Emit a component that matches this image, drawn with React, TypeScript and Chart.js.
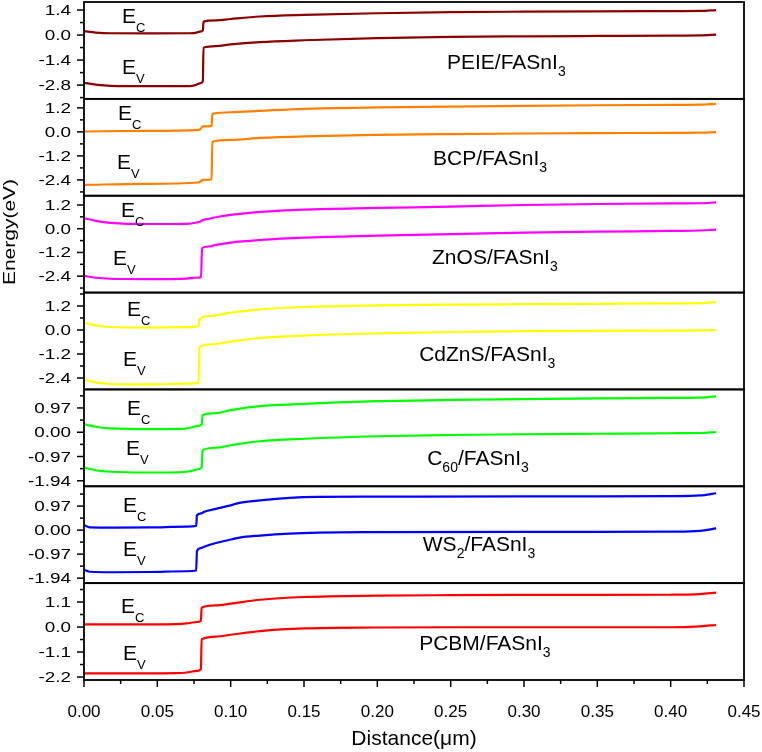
import React, { useEffect, useRef } from 'react';
import { Chart, registerables } from 'chart.js';

Chart.register(...registerables);

const FONT = "'Liberation Sans', Arial, sans-serif";

// distance (um), conduction band Ec and valence band Ev (eV) for each ETL/FASnI3 device
const PEIE_X = [0, 0.008, 0.018, 0.045, 0.072, 0.076, 0.079, 0.081, 0.0815, 0.09, 0.1, 0.12, 0.15, 0.2, 0.25, 0.3, 0.35, 0.4, 0.42, 0.431];
const PEIE_EC = [0.22, 0.14, 0.1, 0.09, 0.1, 0.12, 0.19, 0.25, 0.75, 0.82, 0.9, 1.04, 1.13, 1.22, 1.28, 1.31, 1.33, 1.34, 1.35, 1.4];
const PEIE_EV = [-2.67, -2.77, -2.84, -2.86, -2.86, -2.8, -2.7, -2.6, -0.71, -0.62, -0.52, -0.39, -0.29, -0.17, -0.1, -0.07, -0.05, -0.03, -0.02, 0.02];

const BCP_X = [0, 0.04, 0.078, 0.0795, 0.081, 0.087, 0.0875, 0.1, 0.12, 0.15, 0.2, 0.25, 0.3, 0.35, 0.4, 0.42, 0.431];
const BCP_EC = [0.02, 0.05, 0.1, 0.15, 0.27, 0.3, 0.9, 0.98, 1.05, 1.15, 1.22, 1.26, 1.3, 1.33, 1.35, 1.36, 1.4];
const BCP_EV = [-2.65, -2.6, -2.53, -2.47, -2.4, -2.38, -0.5, -0.4, -0.3, -0.22, -0.15, -0.11, -0.08, -0.06, -0.05, -0.04, -0.01];

const ZNOS_X = [0, 0.008, 0.018, 0.045, 0.07, 0.076, 0.0798, 0.0805, 0.085, 0.09, 0.1, 0.12, 0.15, 0.2, 0.25, 0.3, 0.35, 0.4, 0.42, 0.431];
const ZNOS_EC = [0.54, 0.4, 0.3, 0.24, 0.25, 0.3, 0.38, 0.42, 0.5, 0.58, 0.7, 0.85, 0.97, 1.05, 1.12, 1.2, 1.25, 1.28, 1.29, 1.33];
const ZNOS_EV = [-2.38, -2.48, -2.53, -2.55, -2.52, -2.48, -2.45, -0.98, -0.9, -0.82, -0.7, -0.57, -0.45, -0.35, -0.27, -0.2, -0.15, -0.11, -0.09, -0.05];

const CDZNS_X = [0, 0.008, 0.018, 0.045, 0.07, 0.0782, 0.0786, 0.086, 0.1, 0.12, 0.15, 0.2, 0.25, 0.3, 0.35, 0.4, 0.42, 0.431];
const CDZNS_EC = [0.37, 0.22, 0.15, 0.12, 0.14, 0.2, 0.53, 0.7, 0.87, 1.03, 1.15, 1.23, 1.27, 1.29, 1.31, 1.33, 1.34, 1.4];
const CDZNS_EV = [-2.47, -2.62, -2.7, -2.72, -2.68, -2.63, -0.88, -0.72, -0.58, -0.4, -0.28, -0.17, -0.1, -0.06, -0.04, -0.03, -0.02, 0];

const C60_X = [0, 0.008, 0.018, 0.045, 0.065, 0.072, 0.078, 0.0803, 0.0808, 0.09, 0.1, 0.12, 0.15, 0.2, 0.25, 0.3, 0.35, 0.4, 0.42, 0.431];
const C60_EC = [0.32, 0.22, 0.15, 0.12, 0.13, 0.17, 0.25, 0.32, 0.68, 0.76, 0.88, 1.04, 1.13, 1.24, 1.29, 1.32, 1.35, 1.37, 1.38, 1.43];
const C60_EV = [-1.41, -1.52, -1.58, -1.61, -1.6, -1.56, -1.48, -1.4, -0.72, -0.62, -0.52, -0.36, -0.26, -0.16, -0.11, -0.08, -0.06, -0.04, -0.03, 0.01];

const WS2_X = [0, 0.004, 0.02, 0.045, 0.07, 0.0765, 0.077, 0.08, 0.082, 0.09, 0.1, 0.106, 0.12, 0.14, 0.16, 0.2, 0.3, 0.35, 0.4, 0.42, 0.431];
const WS2_EC = [0.2, 0.11, 0.1, 0.11, 0.14, 0.17, 0.6, 0.68, 0.74, 0.86, 1.0, 1.1, 1.2, 1.3, 1.34, 1.35, 1.36, 1.36, 1.37, 1.4, 1.49];
const WS2_EV = [-1.6, -1.68, -1.7, -1.69, -1.66, -1.63, -0.84, -0.72, -0.67, -0.52, -0.38, -0.3, -0.22, -0.14, -0.1, -0.08, -0.07, -0.07, -0.06, -0.03, 0.07];

const PCBM_X = [0, 0.045, 0.063, 0.07, 0.077, 0.0797, 0.0802, 0.09, 0.1, 0.12, 0.15, 0.2, 0.25, 0.3, 0.35, 0.4, 0.42, 0.431];
const PCBM_EC = [0.12, 0.12, 0.13, 0.16, 0.22, 0.28, 0.85, 0.95, 1.03, 1.2, 1.32, 1.38, 1.4, 1.41, 1.41, 1.42, 1.45, 1.51];
const PCBM_EV = [-2.04, -2.04, -2.03, -2.0, -1.93, -1.86, -0.54, -0.42, -0.34, -0.18, -0.06, -0.02, -0.01, -0.01, -0.01, -0.01, 0.03, 0.09];

// labelled tick values
const X_TICKS = [0, 0.05, 0.1, 0.15, 0.2, 0.25, 0.3, 0.35, 0.4, 0.45];
const PEIE_TICKS = [-2.8, -1.4, 0, 1.4];
const BCP_TICKS = [-2.4, -1.2, 0, 1.2];
const ZNOS_TICKS = [-2.4, -1.2, 0, 1.2];
const CDZNS_TICKS = [-2.4, -1.2, 0, 1.2];
const C60_TICKS = [-1.94, -0.97, 0, 0.97];
const WS2_TICKS = [-1.94, -0.97, 0, 0.97];
const PCBM_TICKS = [-2.2, -1.1, 0, 1.1];

type Part = [string, boolean];

interface Panel {
  id: string;
  name: Part[];
  x: number[];
  ec: number[];
  ev: number[];
  ticks: number[];
  decimals: number;
  min: number;
  max: number;
  color: string;
  ecPos: [number, number]; // [distance, px below panel top]
  evPos: [number, number];
  namePos: [number, number];
}

const PANELS: Panel[] = [
  { id: 'yPEIE', name: [['PEIE/FASnI', false], ['3', true]], x: PEIE_X, ec: PEIE_EC, ev: PEIE_EV, ticks: PEIE_TICKS, decimals: 1, min: -3.57, max: 1.85, color: '#8B0000', ecPos: [0.0259, 21], evPos: [0.0259, 72], namePos: [0.2475, 67] },
  { id: 'yBCP', name: [['BCP/FASnI', false], ['3', true]], x: BCP_X, ec: BCP_EC, ev: BCP_EV, ticks: BCP_TICKS, decimals: 1, min: -3.19, max: 1.65, color: '#FF8000', ecPos: [0.0232, 21], evPos: [0.0225, 70], namePos: [0.238, 66] },
  { id: 'yZnOS', name: [['ZnOS/FASnI', false], ['3', true]], x: ZNOS_X, ec: ZNOS_EC, ev: ZNOS_EV, ticks: ZNOS_TICKS, decimals: 1, min: -3.23, max: 1.67, color: '#FF00FF', ecPos: [0.0252, 21], evPos: [0.0198, 69], namePos: [0.2373, 68] },
  { id: 'yCdZnS', name: [['CdZnS/FASnI', false], ['3', true]], x: CDZNS_X, ec: CDZNS_EC, ev: CDZNS_EV, ticks: CDZNS_TICKS, decimals: 1, min: -2.97, max: 1.87, color: '#FFFF00', ecPos: [0.0293, 23], evPos: [0.0266, 73], namePos: [0.2285, 68] },
  { id: 'yC60', name: [['C', false], ['60', true], ['/FASnI', false], ['3', true]], x: C60_X, ec: C60_EC, ev: C60_EV, ticks: C60_TICKS, decimals: 2, min: -2.16, max: 1.71, color: '#00FF00', ecPos: [0.0293, 26], evPos: [0.0286, 66], namePos: [0.234, 76] },
  { id: 'yWS2', name: [['WS', false], ['2', true], ['/FASnI', false], ['3', true]], x: WS2_X, ec: WS2_EC, ev: WS2_EV, ticks: WS2_TICKS, decimals: 2, min: -2.14, max: 1.77, color: '#0000FF', ecPos: [0.0266, 26], evPos: [0.0266, 70], namePos: [0.231, 65] },
  { id: 'yPCBM', name: [['PCBM/FASnI', false], ['3', true]], x: PCBM_X, ec: PCBM_EC, ev: PCBM_EV, ticks: PCBM_TICKS, decimals: 1, min: -2.33, max: 1.93, color: '#FF0000', ecPos: [0.0252, 30], evPos: [0.0266, 77], namePos: [0.2285, 67] },
];

const isMajor = (list: number[], v: number) => list.some((m) => Math.abs(m - v) < 1e-9);

// majors plus half-step minor ticks inside [min, max]
const withMinor = (major: number[], min: number, max: number) => {
  const step = major[1] - major[0];
  const vals = [major[0] - step / 2];
  major.forEach((m) => vals.push(m, m + step / 2));
  return vals.filter((v) => v >= min - 1e-9 && v <= max + 1e-9).sort((a, b) => a - b);
};

const drawRich = (ctx: CanvasRenderingContext2D, parts: Part[], x: number, y: number, size: number, subSize: number, subDy: number) => {
  let cx = x;
  parts.forEach(([t, sub]) => {
    ctx.font = `${sub ? subSize : size}px ${FONT}`;
    ctx.fillText(t, cx, sub ? y + subDy : y);
    cx += ctx.measureText(t).width;
  });
};

const decorPlugin = {
  id: 'bandDecor',
  afterDraw(chart: any) {
    const ctx: CanvasRenderingContext2D = chart.ctx;
    const area = chart.chartArea;
    const xs = chart.scales.x;
    ctx.save();
    ctx.strokeStyle = '#000';
    ctx.fillStyle = '#000';

    PANELS.forEach((p) => {
      const ys = chart.scales[p.id];
      // tick marks
      ctx.lineWidth = 1.5;
      ys.ticks.forEach((t: any) => {
        const y = ys.getPixelForValue(t.value);
        const len = isMajor(p.ticks, t.value) ? 7 : 4;
        ctx.beginPath();
        ctx.moveTo(area.left - len, y);
        ctx.lineTo(area.left, y);
        ctx.stroke();
      });
      // tick labels (wide glyphs as in the figure)
      ctx.font = `14px ${FONT}`;
      ctx.textAlign = 'right';
      ctx.textBaseline = 'alphabetic';
      p.ticks.forEach((v) => {
        const y = ys.getPixelForValue(v);
        ctx.save();
        ctx.translate(71, y + 5);
        ctx.scale(1.35, 1);
        ctx.fillText(v.toFixed(p.decimals), 0, 0);
        ctx.restore();
      });
      // frame
      ctx.lineWidth = 1.8;
      ctx.strokeRect(area.left, ys.top, area.right - area.left, ys.bottom - ys.top);
      // annotations
      ctx.textAlign = 'left';
      drawRich(ctx, [['E', false], ['C', true]], xs.getPixelForValue(p.ecPos[0]), ys.top + p.ecPos[1], 21, 13, 9);
      drawRich(ctx, [['E', false], ['V', true]], xs.getPixelForValue(p.evPos[0]), ys.top + p.evPos[1], 21, 13, 9);
      drawRich(ctx, p.name, xs.getPixelForValue(p.namePos[0]), ys.top + p.namePos[1], 21, 14, 7);
    });

    // x tick marks
    ctx.lineWidth = 1.5;
    xs.ticks.forEach((t: any) => {
      const x = xs.getPixelForValue(t.value);
      const len = isMajor(X_TICKS, t.value) ? 7 : 4;
      ctx.beginPath();
      ctx.moveTo(x, area.bottom);
      ctx.lineTo(x, area.bottom + len);
      ctx.stroke();
    });

    // axis titles
    ctx.font = `21px ${FONT}`;
    ctx.textAlign = 'center';
    ctx.textBaseline = 'alphabetic';
    ctx.fillText('Distance(\u03BCm)', (area.left + area.right) / 2, 745);

    ctx.save();
    ctx.translate(10, 232);
    ctx.rotate(-Math.PI / 2);
    ctx.scale(1, 0.8);
    ctx.textBaseline = 'middle';
    ctx.fillText('Energy(eV)', 0, 0);
    ctx.restore();

    ctx.restore();
  },
};

const App: React.FC = () => {
  const canvasRef = useRef<HTMLCanvasElement>(null);
  const chartRef = useRef<Chart | null>(null);

  useEffect(() => {
    if (!canvasRef.current) return;
    chartRef.current?.destroy();

    const scales: any = {
      x: {
        type: 'linear',
        position: 'bottom',
        min: 0,
        max: 0.45,
        grid: { display: false },
        border: { display: false },
        afterBuildTicks: (s: any) => {
          s.ticks = withMinor(X_TICKS, 0, 0.45).map((v) => ({ value: v }));
        },
        afterFit: (s: any) => {
          s.height = 72;
          s.paddingLeft = 0;
          s.paddingRight = 0;
        },
        ticks: {
          autoSkip: false,
          maxRotation: 0,
          minRotation: 0,
          padding: 14,
          color: '#000',
          font: { family: FONT, size: 17 },
          callback: (v: any) => (isMajor(X_TICKS, Number(v)) ? Number(v).toFixed(2) : ''),
        },
      },
    };

    // last defined stacked axis is placed on top, so add bottom panel first
    PANELS.slice().reverse().forEach((p) => {
      scales[p.id] = {
        type: 'linear',
        position: 'left',
        stack: 'bands',
        stackWeight: 1,
        min: p.min,
        max: p.max,
        grid: { display: false },
        border: { display: false },
        ticks: { display: false },
        afterBuildTicks: (s: any) => {
          s.ticks = withMinor(p.ticks, p.min, p.max).map((v) => ({ value: v }));
        },
        afterFit: (s: any) => {
          s.width = 84;
          s.paddingTop = 0;
          s.paddingBottom = 0;
        },
      };
    });

    const datasets = PANELS.flatMap((p) =>
      [p.ec, p.ev].map((vals, k) => ({
        label: `${p.id}-${k ? 'Ev' : 'Ec'}`,
        data: p.x.map((x, i) => ({ x, y: vals[i] })),
        xAxisID: 'x',
        yAxisID: p.id,
        borderColor: p.color,
        backgroundColor: p.color,
        borderWidth: 2.2,
        pointRadius: 0,
        cubicInterpolationMode: 'monotone',
        fill: false,
      }))
    );

    chartRef.current = new Chart(canvasRef.current, {
      type: 'line',
      data: { datasets },
      options: {
        responsive: false,
        animation: false,
        devicePixelRatio: 1,
        layout: { padding: { top: 2, right: 18, bottom: 0, left: 0 }, autoPadding: false },
        scales,
        plugins: {
          legend: { display: false },
          tooltip: { enabled: false },
        },
      } as any,
      plugins: [decorPlugin],
    });

    return () => {
      chartRef.current?.destroy();
      chartRef.current = null;
    };
  }, []);

  return (
    <div style={{ position: 'absolute', left: 0, top: 0, width: 762, height: 752, background: '#fff' }}>
      <canvas ref={canvasRef} width={762} height={752} style={{ width: 762, height: 752 }} />
    </div>
  );
};

export default App;
